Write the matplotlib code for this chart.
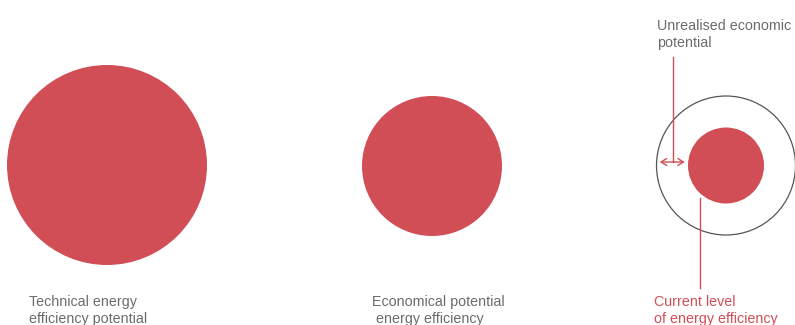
import matplotlib.pyplot as plt
from matplotlib.patches import Circle, FancyArrowPatch

# Relative sizes (radius) of each efficiency level
labels = ["Technical energy\nefficiency potential",
          "Economical potential\n energy efficiency"]
radii = [100, 70]
current_radius = 38
economic_radius = 69.5

RED = "#d14e56"
GREY = "#6b6b6b"
FS = 10.3
plt.rcParams["font.family"] = ["Liberation Sans", "DejaVu Sans"]

fig = plt.figure(figsize=(7.95, 3.25), dpi=100)
ax = fig.add_axes([0, 0, 1, 1])
ax.set_xlim(0, 795)
ax.set_ylim(325, 0)
ax.set_aspect("equal")
ax.axis("off")

centers = [(107, 165), (432, 166)]
label_x = [29, 372]
for (cx, cy), r, lab, lx in zip(centers, radii, labels, label_x):
    ax.add_patch(Circle((cx, cy), r, color=RED, lw=0))
    ax.text(lx, 295, lab, color=GREY, fontsize=FS, va="top", ha="left",
            linespacing=1.3)

# Right group: realised level inside economic potential
cx, cy = 726, 165.5
ax.add_patch(Circle((cx, cy), economic_radius, fill=False, ec="#555555", lw=0.9))
ax.add_patch(Circle((cx, cy), current_radius, color=RED, lw=0))

# Gap between current level and economic potential
y_arr = 162
ax.add_patch(FancyArrowPatch((cx - economic_radius + 0.5, y_arr),
                             (cx - current_radius - 0.5, y_arr),
                             arrowstyle="<->,head_length=4,head_width=2.5",
                             color=RED, lw=1.0, mutation_scale=1))
ax.plot([673.3, 673.3], [57, y_arr], color=RED, lw=1.0)
ax.text(657, 18.5, "Unrealised economic\npotential", color=GREY, fontsize=FS,
        va="top", ha="left", linespacing=1.3)

ax.plot([700, 700], [198, 288], color=RED, lw=1.0)
ax.text(654, 295, "Current level\nof energy efficiency", color=RED,
        fontsize=FS, va="top", ha="left", linespacing=1.3)

fig.savefig("out.png", dpi=100)
